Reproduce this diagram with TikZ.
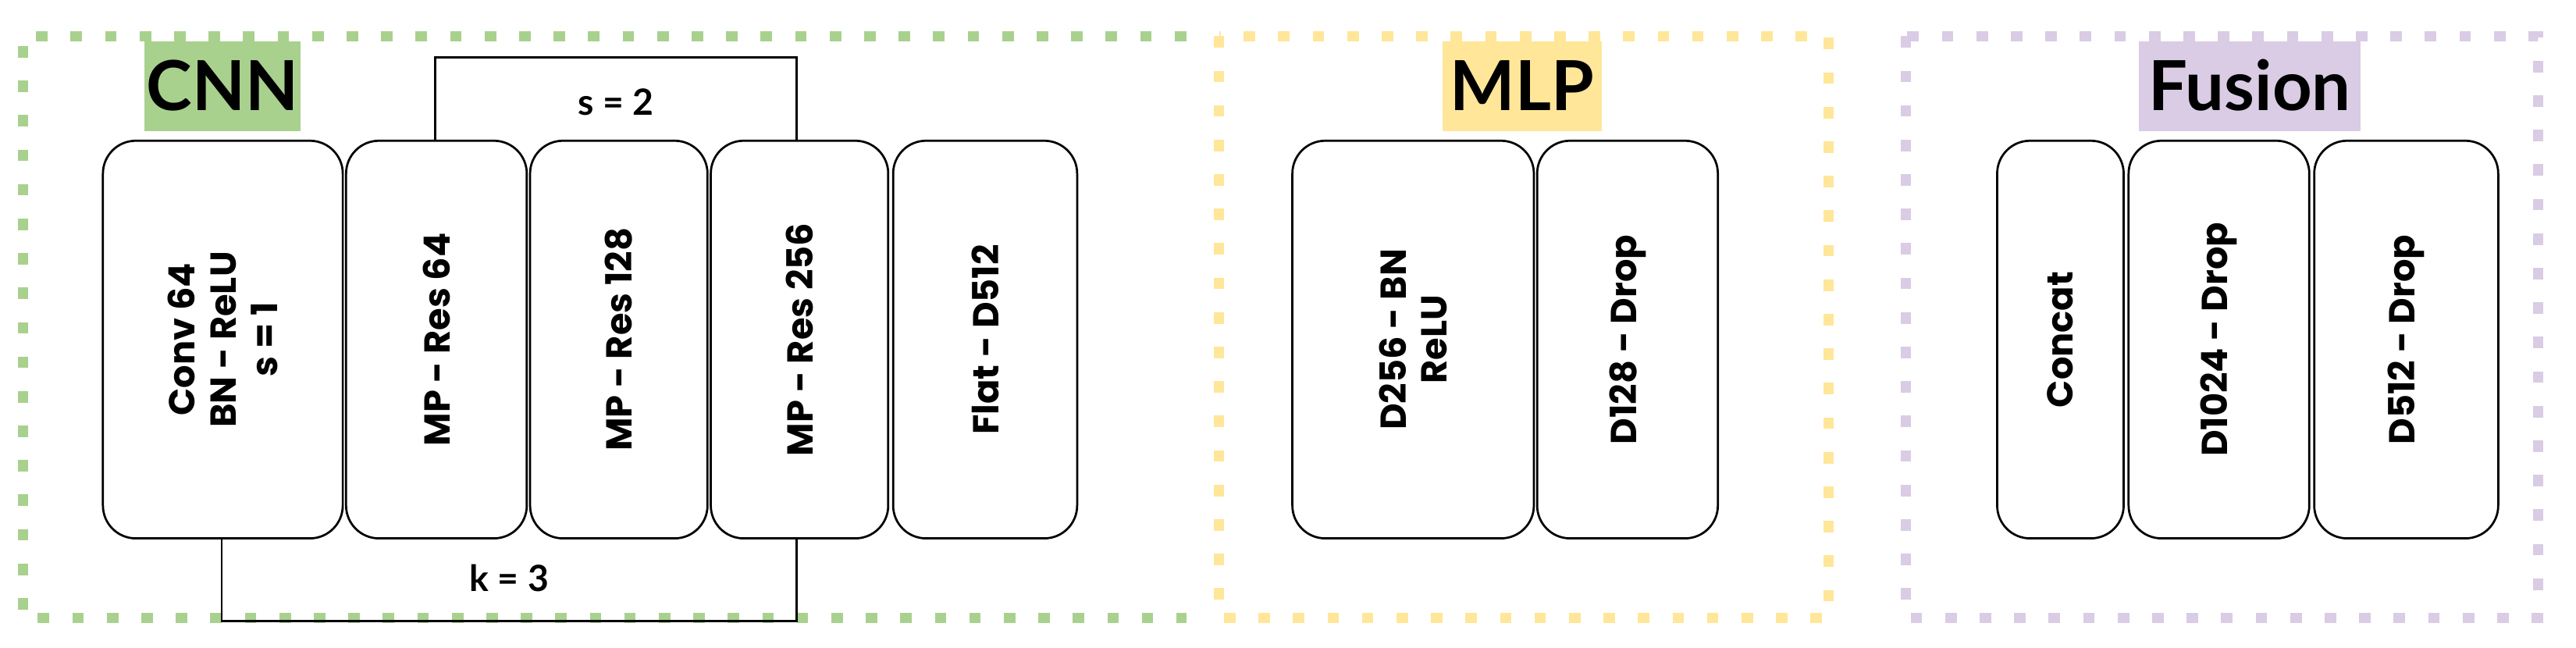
\documentclass[tikz,border=0pt]{standalone}
\usepackage{fontspec}
\setmainfont{Poppins}[BoldFont={Poppins Bold}]
\newfontfamily\titlefont{Lato}
\definecolor{cgreen}{HTML}{A9D18E}
\definecolor{cyellow}{HTML}{FFE699}
\definecolor{cpurple}{HTML}{D9CCE4}
\begin{document}
\begin{tikzpicture}[x=1pt,y=-1pt,
  blk/.style={draw,line width=1.3pt,rounded corners=20pt,anchor=north west,inner sep=0pt},
  btxt/.style={rotate=90,align=center,font=\fontsize{22}{25}\selectfont\bfseries},
  frame/.style={line width=6pt,dash pattern=on 7pt off 14pt},
  title/.style={font=\titlefont\fontsize{42}{44}\selectfont\bfseries,inner sep=2pt,anchor=center},
  lbl/.style={font=\titlefont\fontsize{22}{24}\selectfont\bfseries}]
\useasboundingbox (0,0) rectangle (1568,394);
\draw[frame,cgreen] (722,22) -- (14,22) -- (14,376) -- (722,376);
\draw[frame,cyellow] (742,22) rectangle (1113,376);
\draw[frame,cpurple] (1160,22) rectangle (1545,376);
% brackets
\coordinate (t1) at (265,85); \coordinate (t2) at (485,85);
\coordinate (b1) at (135,327); \coordinate (b2) at (485,327);
\draw[line width=1.2pt] (t1) -- (265,35) -- (485,35) -- (t2);
\draw[line width=1.2pt] (b1) -- (135,378) -- (485,378) -- (b2);
\node[lbl] (s2) at (375,62) {s = 2};
\node[lbl] (k3) at (310,352) {k = 3};
% titles
\fill[cgreen] (88,25) rectangle (183,80);
\node[title] (tcnn) at (135.5,52) {CNN};
\fill[cyellow] (878,25) rectangle (975,80);
\node[title] (tmlp) at (926.5,52) {MLP};
\fill[cpurple] (1302,25) rectangle (1437,80);
\node[title] (tfus) at (1369.5,52) {Fusion};
% blocks
\newcommand{\blkat}[5]{\node[blk,fill=white,minimum width=#3pt,minimum height=242pt] (#1) at (#2,85) {};
  \node[btxt] (#4) at (#1.center) {#5};}
\blkat{conv}{62}{146}{convt}{Conv 64\\BN - ReLU\\s = 1}
\blkat{mpa}{210}{110}{mpat}{MP - Res 64}
\blkat{mpb}{322}{108}{mpbt}{MP - Res 128}
\blkat{mpc}{432}{108}{mpct}{MP - Res 256}
\blkat{flat}{543}{112}{flatt}{Flat - D512}
\blkat{dA}{786}{147}{dAt}{D256 - BN\\ReLU}
\blkat{dB}{935}{110}{dBt}{D128 - Drop}
\blkat{cc}{1215}{77}{cct}{Concat}
\blkat{fA}{1295}{110}{fAt}{D1024 - Drop}
\blkat{fB}{1408}{112}{fBt}{D512 - Drop}
\end{tikzpicture}
\end{document}
